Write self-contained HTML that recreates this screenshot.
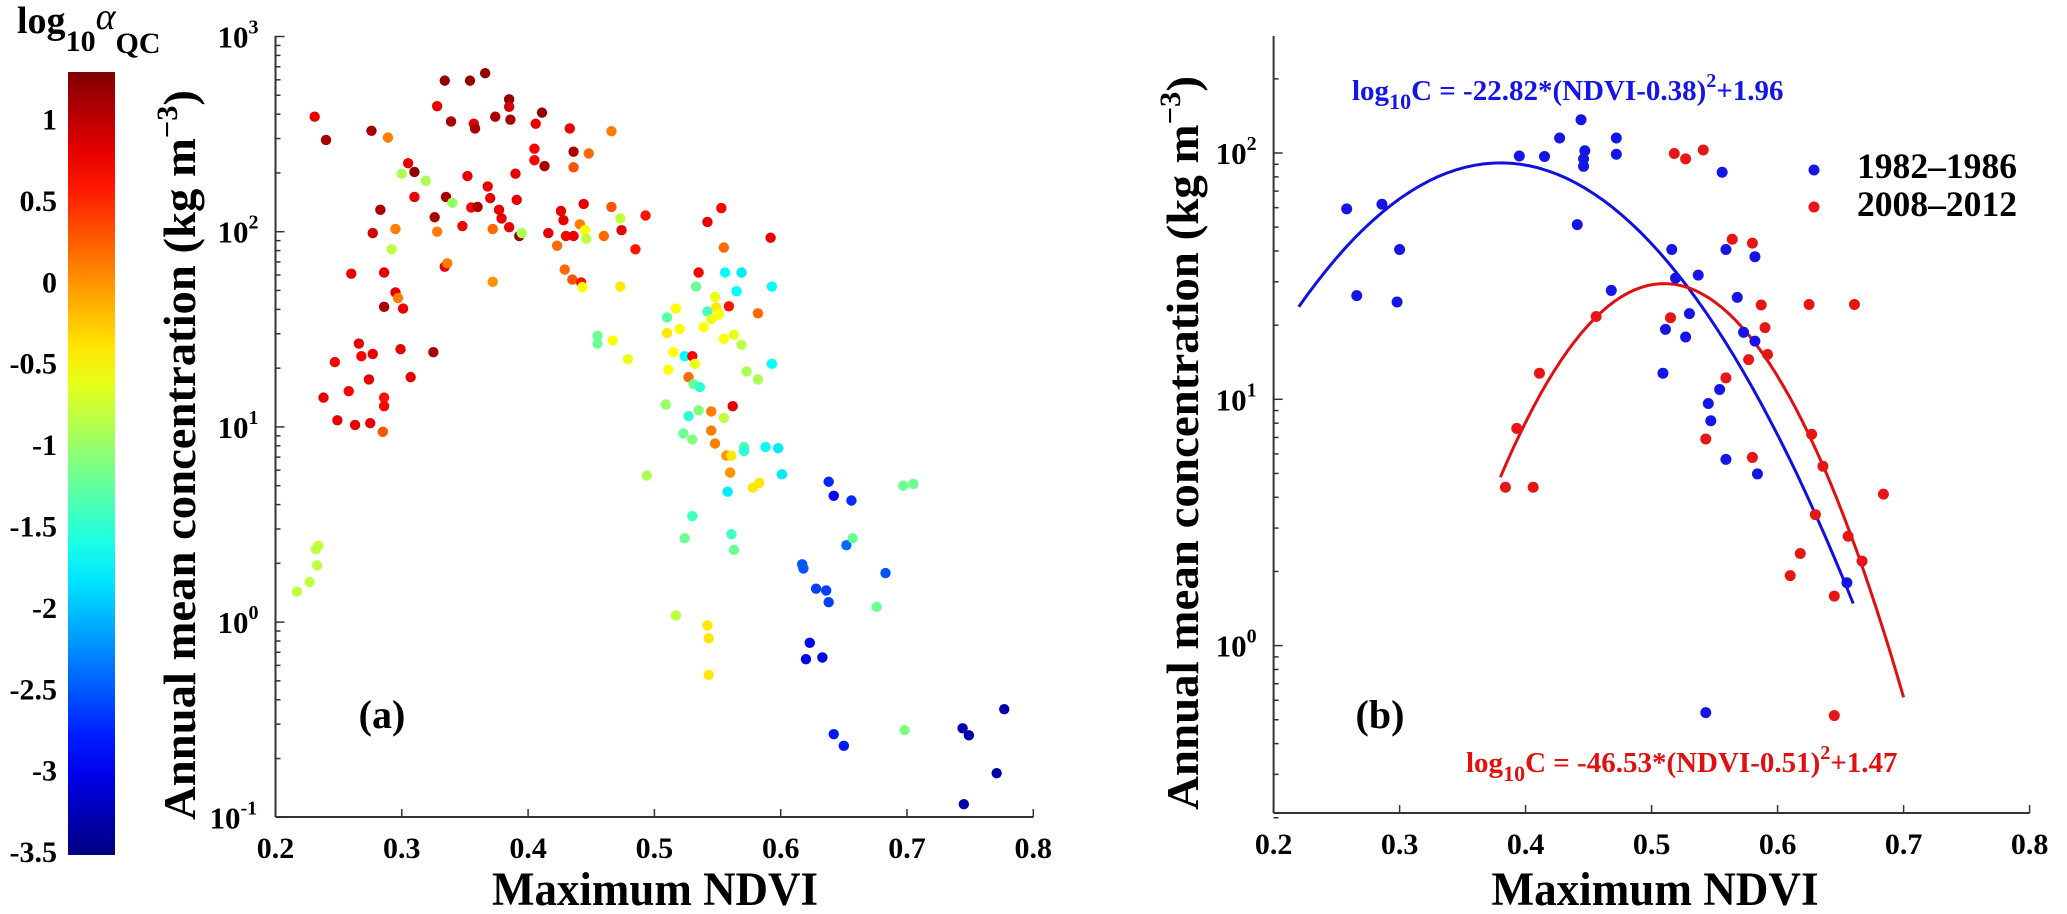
<!DOCTYPE html>
<html><head><meta charset="utf-8"><style>
html,body{margin:0;padding:0;background:#fff;}
svg{display:block;font-family:"Liberation Serif",serif;font-weight:bold;}
</style></head><body>
<svg id="fig" width="2067" height="914" viewBox="0 0 2067 914" xmlns="http://www.w3.org/2000/svg">
<defs><linearGradient id="jetg" x1="0" y1="1" x2="0" y2="0"></linearGradient></defs>
<g id="cb"></g>
<g id="pa"></g>
<g id="pb"></g>
</svg>
<script>
// ---------- Panel (a) data ----------
const ndviA = [0.231,0.240,0.276,0.289,0.305,0.310,0.300,0.319,0.310,0.334,0.354,0.366,0.328,0.339,0.357,0.358,0.374,0.385,0.385,0.386,0.411,0.406,0.433,0.436,0.448,0.466,0.405,0.405,0.413,0.436,0.390,0.352,0.335,0.368,0.370,0.391,0.355,0.360,0.377,0.379,0.340,0.326,0.348,0.328,0.295,0.283,0.277,0.372,0.385,0.393,0.395,0.416,0.426,0.428,0.430,0.436,0.444,0.441,0.445,0.446,0.460,0.466,0.473,0.474,0.493,0.485,0.423,0.292,0.260,0.286,0.334,0.336,0.372,0.429,0.435,0.442,0.443,0.473,0.295,0.297,0.286,0.301,0.266,0.268,0.277,0.247,0.299,0.325,0.274,0.307,0.258,0.238,0.286,0.286,0.249,0.263,0.275,0.285,0.232,0.234,0.233,0.227,0.217,0.455,0.455,0.467,0.479,0.494,0.510,0.517,0.510,0.520,0.515,0.511,0.524,0.530,0.532,0.527,0.531,0.536,0.509,0.527,0.535,0.545,0.555,0.523,0.530,0.545,0.548,0.533,0.548,0.542,0.549,0.539,0.545,0.551,0.556,0.535,0.565,0.559,0.555,0.563,0.569,0.573,0.582,0.569,0.582,0.593,0.593,0.562,0.557,0.561,0.571,0.571,0.588,0.598,0.601,0.560,0.558,0.578,0.583,0.530,0.524,0.561,0.563,0.517,0.542,0.543,0.543,0.542,0.553,0.555,0.592,0.638,0.642,0.656,0.617,0.618,0.628,0.636,0.638,0.652,0.657,0.683,0.676,0.623,0.620,0.633,0.642,0.650,0.697,0.705,0.698,0.744,0.749,0.777,0.771,0.745];
const logConcA = [2.589,2.470,2.517,2.482,2.351,2.306,2.297,2.261,2.178,2.774,2.774,2.812,2.643,2.565,2.553,2.529,2.589,2.678,2.640,2.574,2.610,2.553,2.529,2.410,2.401,2.515,2.425,2.366,2.336,2.330,2.297,2.285,2.178,2.232,2.172,2.163,2.124,2.127,2.112,2.068,2.148,2.074,2.029,2.000,2.014,2.112,1.993,2.014,2.023,1.978,1.993,1.993,2.106,2.059,1.978,1.978,2.142,2.038,2.008,1.964,1.978,2.127,2.068,2.008,2.083,1.910,1.928,1.910,1.785,1.791,1.821,1.838,1.743,1.806,1.755,1.740,1.716,1.719,1.689,1.660,1.615,1.606,1.427,1.362,1.374,1.332,1.398,1.383,1.243,1.255,1.183,1.150,1.150,1.106,1.034,1.010,1.019,0.975,0.373,0.391,0.290,0.206,0.156,1.466,1.427,1.442,1.347,0.751,1.561,1.606,1.481,1.502,1.383,1.293,1.362,1.362,1.323,1.255,1.219,1.204,1.115,1.055,1.085,1.079,1.046,0.966,0.936,0.981,0.915,1.719,1.666,1.591,1.612,1.511,1.552,1.576,1.791,1.791,1.695,1.618,1.451,1.472,1.421,1.284,1.243,1.791,1.582,1.719,1.323,1.106,0.853,0.853,0.897,0.876,0.897,0.891,0.757,0.766,0.668,0.689,0.713,0.543,0.430,0.450,0.370,0.034,-0.017,-0.083,-0.270,2.050,2.121,1.919,1.969,0.719,0.647,0.623,0.296,0.275,0.171,0.162,0.102,0.394,0.430,0.251,0.078,-0.106,-0.190,-0.181,-0.574,-0.634,0.699,0.708,-0.553,-0.544,-0.580,-0.446,-0.774,-0.933];
const alphaA = [0.8,1.1,1.1,0.1,0.8,1.2,-0.9,-0.9,0.8,1.2,1.2,1.2,0.8,1.1,0.8,1.1,1.1,1.2,0.9,1.1,1.2,0.8,0.8,1.1,0.2,0.1,0.7,0.7,1.1,0.3,0.8,0.8,1.1,0.8,0.8,0.8,0.7,1.1,0.8,0.8,-1.0,1.1,0.7,0.1,0.1,1.1,0.9,0.2,0.8,1.2,-0.9,0.8,0.8,0.8,0.7,0.8,0.8,0.1,-0.5,-0.8,0.2,0.3,-0.8,0.8,0.6,0.6,0.2,-0.8,0.8,0.8,0.8,0.1,0.0,0.2,0.3,0.6,-0.5,-0.4,0.8,0.1,1.1,0.8,0.8,0.7,0.8,0.7,0.8,1.1,0.8,0.8,0.7,0.8,0.6,0.7,0.8,0.8,0.8,0.3,-0.8,-0.8,-0.8,-0.8,-0.8,-1.2,-1.2,-0.5,-0.6,-0.9,-1.3,-0.5,-0.4,-0.5,-0.5,-0.5,-1.7,0.7,-0.6,0.2,-1.2,-1.5,-1.0,-1.5,-1.1,0.1,-0.8,-1.2,-1.1,0.1,0.1,-1.2,-0.6,-1.4,-0.4,-0.5,-0.6,-0.5,-1.7,0.7,-1.7,0.6,-0.5,-0.6,-0.8,-0.9,-0.9,-1.8,0.2,-1.7,-1.7,0.8,0.0,-0.4,-1.3,-1.5,-1.7,-1.8,-1.8,0.0,-1.8,-0.4,-0.4,-1.4,-1.2,-1.4,-1.2,-0.8,-0.4,-0.4,-0.4,0.8,0.7,0.2,0.8,-2.7,-2.9,-2.7,-2.5,-2.5,-2.6,-2.6,-2.6,-2.4,-1.2,-2.5,-1.2,-2.9,-3.0,-3.0,-2.8,-2.8,-1.2,-1.2,-1.1,-3.3,-3.3,-3.3,-3.3,-3.3];
const xTicks = [0.2,0.3,0.4,0.5,0.6,0.7,0.8];
const yExpA = [-1,0,1,2,3];
const yExpB = [0,1,2];
const cbTicks = [1,0.5,0,-0.5,-1,-1.5,-2,-2.5,-3,-3.5];
// ---------- Panel (b) data ----------
const ndviB1 = [0.258,0.266,0.286,0.300,0.298,0.395,0.415,0.427,0.444,0.447,0.446,0.446,0.441,0.472,0.472,0.468,0.516,0.519,0.537,0.530,0.527,0.511,0.509,0.556,0.559,0.582,0.568,0.573,0.582,0.554,0.545,0.547,0.559,0.584,0.655,0.543];
const logConcB1 = [1.773,1.421,1.792,1.608,1.395,1.988,1.986,2.061,2.135,2.009,1.976,1.946,1.709,2.061,1.995,1.442,1.608,1.492,1.504,1.348,1.253,1.284,1.106,1.922,1.608,1.579,1.414,1.272,1.236,1.040,0.983,0.913,0.756,0.697,0.255,-0.272];
const ndviB2 = [0.518,0.527,0.541,0.564,0.580,0.587,0.590,0.577,0.592,0.559,0.515,0.456,0.411,0.393,0.384,0.406,0.543,0.580,0.625,0.661,0.627,0.636,0.630,0.618,0.610,0.656,0.667,0.645,0.684,0.645];
const logConcB2 = [1.998,1.976,2.012,1.650,1.634,1.383,1.291,1.161,1.182,1.087,1.331,1.336,1.106,0.882,0.643,0.643,0.839,0.764,1.385,1.385,0.858,0.728,0.532,0.374,0.284,0.444,0.343,0.201,0.615,-0.284];
const fitCoefs1 = [-22.82,0.38,1.96], fitRange1 = [0.22,0.66];
const fitCoefs2 = [-46.53,0.51,1.47], fitRange2 = [0.38,0.70];

const NS="http://www.w3.org/2000/svg";
function mk(tag, attrs, parent, text){const e=document.createElementNS(NS,tag);for(const k in attrs)e.setAttribute(k,attrs[k]);if(text!==undefined)e.textContent=text;parent.appendChild(e);return e;}
function jet(v){const t=(v+3.5)/(1.29+3.5);const c=x=>Math.round(255*Math.max(0,Math.min(1,x)));
 return `rgb(${c(1.5-Math.abs(4*t-3))},${c(1.5-Math.abs(4*t-2))},${c(1.5-Math.abs(4*t-1))})`;}
const xa=n=>275.5+(n-0.2)*1263, ya=l=>36.5+(3-l)*195.2;
const xb=n=>1273.6+(n-0.2)*1260, yb=l=>153-(l-2)*246.3;

// colorbar
const cb=document.getElementById('cb');
const grad=document.getElementById('jetg');
for(let i=0;i<=20;i++){const v=-3.5+i/20*4.79;mk('stop',{offset:(i/20),'stop-color':jet(v)},grad);}
const cbY=v=>119.5+(1-v)*162.8;
const bar=mk('rect',{x:68,y:72,width:47,height:783,fill:'url(#jetg)'},cb);

cbTicks.forEach(v=>{const t=mk('text',{x:57,y:cbY(v)+10,'text-anchor':'end','font-size':30},cb,String(v));
 });
const ct=mk('text',{x:17,y:33,'font-size':38},cb);

ct.innerHTML='log<tspan font-size="30" dy="18">10</tspan><tspan dy="-22" font-style="italic" font-weight="normal">α</tspan><tspan font-size="30" dy="24">QC</tspan>';

function logAxis(g,yf,x0,exps,lo,hi,y0,y1){
 mk('line',{x1:x0,y1:y0,x2:x0,y2:y1,stroke:'#333','stroke-width':2},g);
 for(let e=Math.floor(lo);e<=hi;e++)for(let m=1;m<10;m++){const l=e+Math.log10(m);if(l<lo-1e-9||l>hi)continue;
  mk('line',{x1:x0,y1:yf(l),x2:x0+(m==1?9:5),y2:yf(l),stroke:'#333','stroke-width':1.5},g);}
 exps.forEach(e=>{const t=mk('text',{x:x0-(e<0?66:58),y:yf(e)+11,'font-size':31},g);
  
  t.innerHTML='10<tspan font-size="20" dy="-14">'+e+'</tspan>';});
}
function xAxis(g,xf,yb0){
 mk('line',{x1:xf(0.2),y1:yb0,x2:xf(0.8),y2:yb0,stroke:'#333','stroke-width':2},g);
 xTicks.forEach(v=>{mk('line',{x1:xf(v),y1:yb0,x2:xf(v),y2:yb0-8,stroke:'#333','stroke-width':1.5},g);
  const t=mk('text',{x:xf(v),y:yb0+41,'text-anchor':'middle','font-size':30},g,v.toFixed(1));
  });
}
// panel a
const pa=document.getElementById('pa');
logAxis(pa,ya,275.5,yExpA,-1,3,36,817);
xAxis(pa,xa,817);
ndviA.forEach((n,i)=>{const c=mk('circle',{cx:xa(n),cy:ya(logConcA[i]),r:5.2,fill:jet(alphaA[i])},pa);
 });
let t=mk('text',{x:0,y:0,transform:'translate(195,455) rotate(-90)','text-anchor':'middle','font-size':46,textLength:730,lengthAdjust:'spacingAndGlyphs'},pa);
t.innerHTML='Annual mean concentration (kg m<tspan font-size="30" dy="-18">−3</tspan><tspan dy="18">)</tspan>';

t=mk('text',{x:655,y:905,'text-anchor':'middle','font-size':48,textLength:326,lengthAdjust:'spacingAndGlyphs'},pa,'Maximum NDVI');

t=mk('text',{x:382,y:728,'text-anchor':'middle','font-size':40},pa,'(a)');


// panel b
const pb=document.getElementById('pb');
logAxis(pb,yb,1273.6,yExpB,Math.log10(0.2),Math.log10(298),36,813);
xAxis(pb,xb,813);
function fitPath(coefs,range){let d='';for(let k=0;k<=60;k++){const n=range[0]+(range[1]-range[0])*k/60;const l=coefs[0]*(n-coefs[1])**2+coefs[2];d+=(k?'L':'M')+xb(n).toFixed(1)+','+yb(l).toFixed(1);}return d;}
let p=mk('path',{d:fitPath(fitCoefs1,fitRange1),fill:'none',stroke:'#1010e0','stroke-width':3},pb);

p=mk('path',{d:fitPath(fitCoefs2,fitRange2),fill:'none',stroke:'#e01010','stroke-width':3},pb);

ndviB1.forEach((n,i)=>{const c=mk('circle',{cx:xb(n),cy:yb(logConcB1[i]),r:5.5,fill:'#1515e8'},pb);
 });
ndviB2.forEach((n,i)=>{const c=mk('circle',{cx:xb(n),cy:yb(logConcB2[i]),r:5.5,fill:'#e81515'},pb);
 });
t=mk('text',{x:0,y:0,transform:'translate(1198,443) rotate(-90)','text-anchor':'middle','font-size':46,textLength:734,lengthAdjust:'spacingAndGlyphs'},pb);
t.innerHTML='Annual mean concentration (kg m<tspan font-size="30" dy="-18">−3</tspan><tspan dy="18">)</tspan>';

t=mk('text',{x:1655,y:905,'text-anchor':'middle','font-size':48,textLength:327,lengthAdjust:'spacingAndGlyphs'},pb,'Maximum NDVI');

t=mk('text',{x:1380,y:728,'text-anchor':'middle','font-size':40},pb,'(b)');

t=mk('text',{x:1352,y:100,'font-size':29,fill:'#1515e8'},pb);
t.innerHTML='log<tspan font-size="22" dy="9">10</tspan><tspan dy="-9">C = -22.82*(NDVI-0.38)</tspan><tspan font-size="20" dy="-13">2</tspan><tspan dy="13">+1.96</tspan>';

t=mk('text',{x:1466,y:772,'font-size':29,fill:'#e01010'},pb);
t.innerHTML='log<tspan font-size="22" dy="9">10</tspan><tspan dy="-9">C = -46.53*(NDVI-0.51)</tspan><tspan font-size="20" dy="-13">2</tspan><tspan dy="13">+1.47</tspan>';

let c=mk('circle',{cx:1814,cy:170,r:5.5,fill:'#1515e8'},pb);

c=mk('circle',{cx:1814,cy:207,r:5.5,fill:'#e81515'},pb);

t=mk('text',{x:1857,y:178,'font-size':36,textLength:160,lengthAdjust:'spacingAndGlyphs'},pb,'1982–1986');

t=mk('text',{x:1857,y:216,'font-size':36,textLength:160,lengthAdjust:'spacingAndGlyphs'},pb,'2008–2012');

</script>
</body></html>
